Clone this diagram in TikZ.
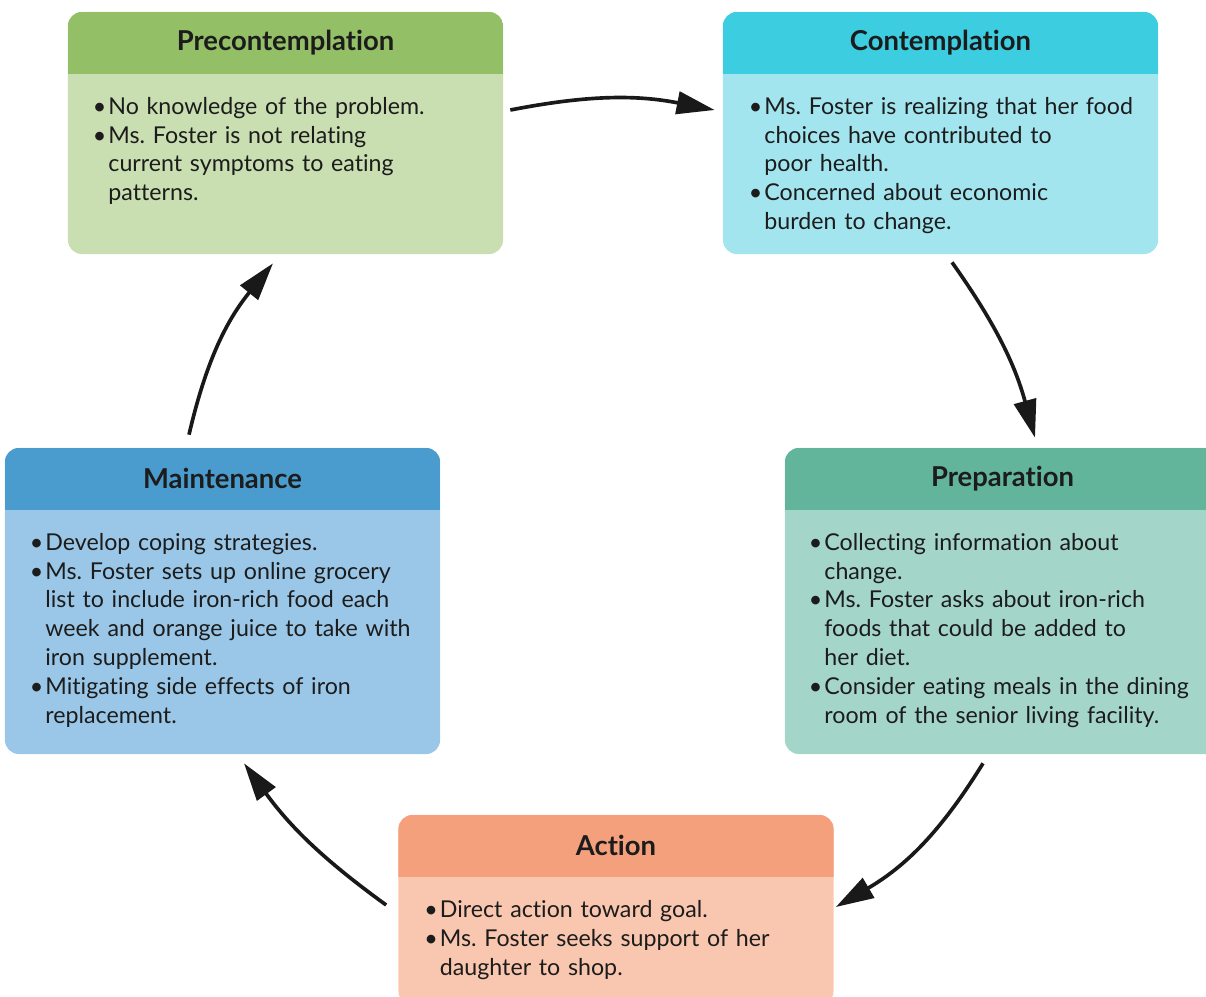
\documentclass[tikz,border=0pt]{standalone}
\usepackage{fontspec}
\setmainfont{Lato}[Ligatures=NoCommon]
\usetikzlibrary{calc,arrows.meta}
\definecolor{prechead}{HTML}{93BF66}
\definecolor{precbody}{HTML}{C9DEB1}
\definecolor{conthead}{HTML}{3CCDE0}
\definecolor{contbody}{HTML}{A3E5EF}
\definecolor{prephead}{HTML}{62B59B}
\definecolor{prepbody}{HTML}{A4D5C9}
\definecolor{mainthead}{HTML}{4B9CCE}
\definecolor{maintbody}{HTML}{9AC7E7}
\definecolor{acthead}{HTML}{F5A07C}
\definecolor{actbody}{HTML}{F9C7AF}
\definecolor{inktext}{HTML}{1C1C1C}
\frenchspacing
\newcommand\stageitem[1]{\hangindent=11pt\hangafter=1\noindent\makebox[11pt][l]{\textbullet}#1\par}
\tikzset{
  stage/.style={rounded corners=0.35cm, minimum width=10.875cm, inner sep=0pt},
  headfill/.style={path picture={\fill[#1, sharp corners] (path picture bounding box.north west) rectangle ([yshift=-1.55cm]path picture bounding box.north east);}},
  title/.style={font=\fontsize{19.5}{22}\selectfont\bfseries, text=inktext},
  bodytext/.style={anchor=north west, inner sep=0pt, text width=10.6cm, align=left, text=inktext,
    font=\fontsize{16.5}{20.6}\selectfont},
  flow/.style={-{Triangle[length=27pt,width=16pt]}, line width=2.6pt, black!90}
}
\begin{document}
\begin{tikzpicture}[x=0.025cm, y=-0.025cm]
  \useasboundingbox (0,0) rectangle (1206,996);

  % stage boxes
  \node[stage, fill=precbody, headfill=prechead, minimum height=6.05cm] (pre) at (285.5,133) {};
  \node[stage, fill=contbody, headfill=conthead, minimum height=6.05cm] (con) at (940.5,133) {};
  \node[stage, fill=prepbody, headfill=prephead, minimum height=7.65cm] (prep) at (1002.5,601) {};
  \node[stage, fill=maintbody, headfill=mainthead, minimum height=7.65cm] (main) at (222.5,601) {};
  \node[stage, fill=actbody, headfill=acthead, minimum height=4.75cm] (act) at (616,910) {};

  % titles
  \node[title] (pret) at ($(pre.north)+(0,31)$) {Precontemplation};
  \node[title] (cont) at ($(con.north)+(0,31)$) {Contemplation};
  \node[title] (prept) at ($(prep.north)+(0,31)$) {Preparation};
  \node[title] (maint) at ($(main.north)+(0,31)$) {Maintenance};
  \node[title] (actt) at ($(act.north)+(0,31)$) {Action};

  % bullet texts
  \node[bodytext] (pretx) at ($(pre.north west)+(25,85)$) {%
    \stageitem{No knowledge of the problem.}
    \stageitem{Ms. Foster is not relating\newline current symptoms to eating\newline patterns.}};
  \node[bodytext] (contx) at ($(con.north west)+(26,85)$) {%
    \stageitem{Ms. Foster is realizing that her food\newline choices have contributed to\newline poor health.}
    \stageitem{Concerned about economic\newline burden to change.}};
  \node[bodytext] (preptx) at ($(prep.north west)+(24,85)$) {%
    \stageitem{Collecting information about\newline change.}
    \stageitem{Ms. Foster asks about iron-rich\newline foods that could be added to\newline her diet.}
    \stageitem{Consider eating meals in the dining\newline room of the senior living facility.}};
  \node[bodytext] (maintx) at ($(main.north west)+(25,85)$) {%
    \stageitem{Develop coping strategies.}
    \stageitem{Ms. Foster sets up online grocery\newline list to include iron-rich food each\newline week and orange juice to take with\newline iron supplement.}
    \stageitem{Mitigating side effects of iron\newline replacement.}};
  \node[bodytext] (acttx) at ($(act.north west)+(26,85)$) {%
    \stageitem{Direct action toward goal.}
    \stageitem{Ms. Foster seeks support of her\newline daughter to shop.}};

  % cycle arrows
  \draw[flow] ($(pre.east)+(7,-23)$) to[bend left=11] ($(con.west)+(-8,-23)$);
  \draw[flow] ($(con.south)+(11.5,8)$) to[bend left=10] ($(prep.north)+(32.5,-10)$);
  \draw[flow] ($(prep.south)+(-19.5,9)$) to[bend left=14] ($(act.east)+(2,-3)$);
  \draw[flow] ($(act.west)+(-12,-5)$) to[bend left=9] ($(main.south)+(21.5,9)$);
  \draw[flow] ($(main.north)+(-33.5,-13)$) to[bend left=13] ($(pre.south)+(-12.5,9)$);
\end{tikzpicture}
\end{document}
